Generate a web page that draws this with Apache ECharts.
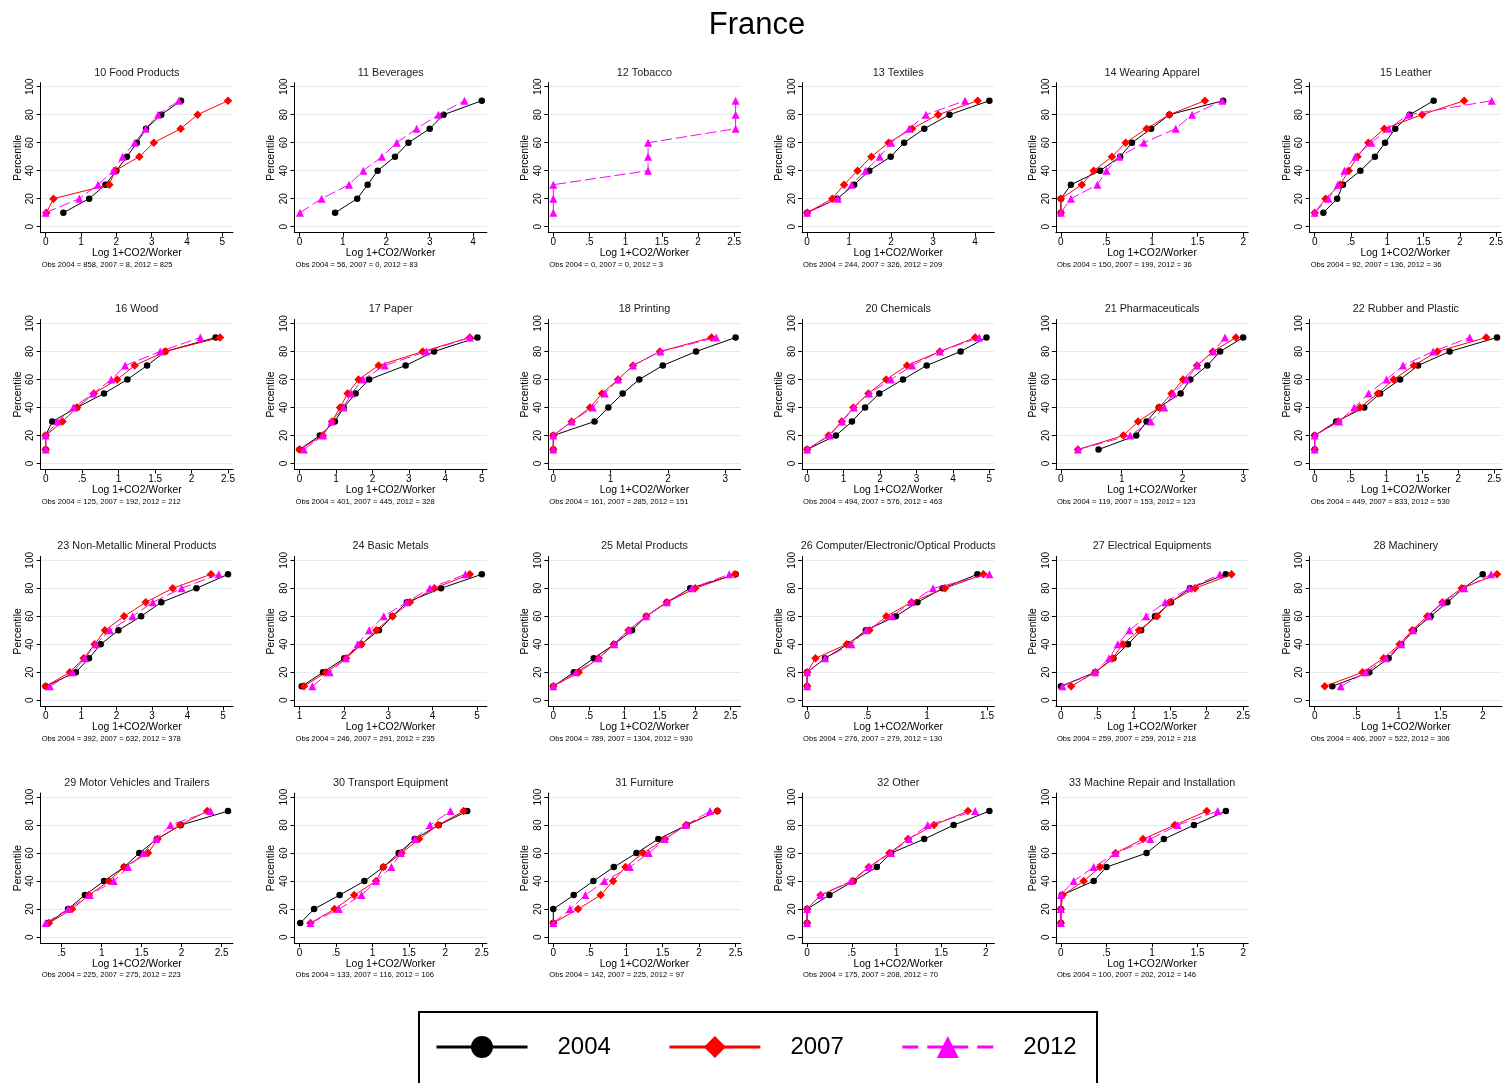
<!DOCTYPE html>
<html><head><meta charset="utf-8">
<script src="https://cdn.jsdelivr.net/npm/echarts@6/dist/echarts.min.js"></script>
<style>html,body{margin:0;padding:0;background:#fff}#c{width:1506px;height:1083px}</style>
</head><body><div id="c"></div>
<script>
const chartTitle = "France";
const industries = ["10 Food Products","11 Beverages","12 Tobacco","13 Textiles","14 Wearing Apparel","15 Leather","16 Wood","17 Paper","18 Printing","20 Chemicals","21 Pharmaceuticals","22 Rubber and Plastic","23 Non-Metallic Mineral Products","24 Basic Metals","25 Metal Products","26 Computer/Electronic/Optical Products","27 Electrical Equipments","28 Machinery","29 Motor Vehicles and Trailers","30 Transport Equipment","31 Furniture","32 Other","33 Machine Repair and Installation"];
const years = ["2004","2007","2012"];
const obs2004 = [858,56,0,244,150,92,125,401,161,494,119,449,392,246,789,276,259,406,225,133,142,175,100];
const obs2007 = [8,0,0,326,199,136,192,445,285,576,153,833,632,291,1304,279,259,522,275,116,225,208,202];
const obs2012 = [825,83,3,209,36,36,212,328,151,463,123,530,378,235,930,130,218,306,223,106,97,70,146];
const percentiles = [10,20,30,40,50,60,70,80,90];
const yTicks = [0,20,40,60,80,100];
const xTicks = [[0,1,2,3,4,5],[0,1,2,3,4],[0,.5,1,1.5,2,2.5],[0,1,2,3,4],[0,.5,1,1.5,2],[0,.5,1,1.5,2,2.5],
  [0,.5,1,1.5,2,2.5],[0,1,2,3,4,5],[0,1,2,3],[0,1,2,3,4,5],[0,1,2,3],[0,.5,1,1.5,2,2.5],
  [0,1,2,3,4,5],[1,2,3,4,5],[0,.5,1,1.5,2,2.5],[0,.5,1,1.5],[0,.5,1,1.5,2,2.5],[0,.5,1,1.5,2],
  [.5,1,1.5,2,2.5],[0,.5,1,1.5,2,2.5],[0,.5,1,1.5,2,2.5],[0,.5,1,1.5,2],[0,.5,1,1.5,2]];
const x2004 = [
  [0.50,1.23,1.69,2.00,2.30,2.58,2.84,3.27,3.83],
  [0.82,1.33,1.57,1.80,2.20,2.51,3.00,3.32,4.20],
  [],
  [0,0.72,1.12,1.48,1.99,2.31,2.79,3.39,4.34],
  [0,0,0.11,0.43,0.65,0.78,0.99,1.19,1.78],
  [0.12,0.31,0.39,0.63,0.83,0.97,1.11,1.31,1.64],
  [0,0,0.09,0.43,0.80,1.12,1.39,1.64,2.33],
  [0,0.56,0.97,1.21,1.54,1.91,2.91,3.69,4.88],
  [0,0,0.72,0.96,1.21,1.50,1.91,2.49,3.18],
  [0,0.79,1.23,1.59,1.98,2.63,3.28,4.21,4.92],
  [0.62,1.24,1.41,1.61,1.97,2.13,2.41,2.62,3.00],
  [0,0,0.30,0.69,0.91,1.19,1.44,1.88,2.54],
  [0,0.85,1.22,1.55,2.05,2.69,3.26,4.25,5.14],
  [1.05,1.53,2.01,2.39,2.79,3.09,3.42,4.19,5.11],
  [0,0.29,0.57,0.86,1.11,1.31,1.60,1.93,2.57],
  [0,0,0.15,0.34,0.49,0.74,0.92,1.13,1.42],
  [0,0.47,0.72,0.92,1.10,1.29,1.51,1.77,2.26],
  [0.21,0.65,0.88,1.03,1.18,1.38,1.58,1.77,2.00],
  [0.33,0.58,0.79,1.03,1.28,1.47,1.69,1.99,2.58],
  [0.01,0.20,0.55,0.89,1.15,1.36,1.58,1.91,2.30],
  [0,0,0.28,0.55,0.83,1.14,1.44,1.83,2.25],
  [0,0,0.25,0.52,0.78,0.94,1.31,1.64,2.04],
  [0,0,0.01,0.36,0.50,0.94,1.13,1.46,1.81]];
const x2007 = [
  [0.02,0.22,1.80,1.96,2.65,3.06,3.82,4.30,5.16],
  [],
  [],
  [0,0.60,0.88,1.20,1.53,1.94,2.50,3.12,4.06],
  [0,0,0.23,0.36,0.56,0.71,0.94,1.19,1.58],
  [0,0.15,0.35,0.47,0.59,0.74,0.96,1.48,2.06],
  [0,0,0.23,0.43,0.66,0.98,1.22,1.64,2.39],
  [0,0.64,0.89,1.11,1.32,1.62,2.17,3.38,4.67],
  [0,0,0.32,0.64,0.85,1.13,1.39,1.86,2.76],
  [0,0.59,0.95,1.27,1.68,2.17,2.74,3.64,4.61],
  [0.28,1.03,1.27,1.62,1.82,2.01,2.24,2.50,2.88],
  [0,0,0.33,0.63,0.88,1.10,1.38,1.71,2.39],
  [0,0.68,1.07,1.38,1.67,2.21,2.82,3.58,4.66],
  [1.10,1.60,2.05,2.40,2.73,3.10,3.49,4.04,4.84],
  [0,0.36,0.64,0.85,1.06,1.31,1.60,2.00,2.56],
  [0,0,0.07,0.33,0.52,0.66,0.87,1.15,1.47],
  [0.14,0.47,0.71,0.85,1.07,1.32,1.49,1.84,2.34],
  [0.12,0.57,0.82,1.01,1.16,1.34,1.52,1.75,2.17],
  [0.34,0.63,0.84,1.09,1.28,1.58,1.70,1.98,2.32],
  [0.15,0.48,0.75,1.05,1.15,1.40,1.64,1.90,2.25],
  [0,0.34,0.65,0.82,0.99,1.23,1.53,1.82,2.25],
  [0,0,0.15,0.51,0.69,0.92,1.13,1.42,1.80],
  [0,0,0.02,0.25,0.43,0.60,0.90,1.25,1.60]];
const x2012 = [
  [0,0.95,1.48,1.92,2.18,2.52,2.83,3.18,3.77],
  [0.01,0.51,1.14,1.47,1.90,2.24,2.70,3.20,3.80],
  [0,0,0,1.31,1.31,1.31,2.52,2.52,2.52],
  [0,0.73,1.06,1.39,1.73,2.00,2.43,2.83,3.76],
  [0,0.11,0.40,0.50,0.64,0.91,1.26,1.44,1.77],
  [0,0.19,0.32,0.41,0.56,0.78,1.02,1.29,2.44],
  [0,0,0.16,0.38,0.65,0.90,1.09,1.57,2.12],
  [0.12,0.65,0.88,1.21,1.42,1.74,2.34,3.48,4.67],
  [0,0,0.32,0.69,0.90,1.13,1.39,1.87,2.84],
  [0,0.62,0.96,1.28,1.70,2.30,2.88,3.64,4.72],
  [0.28,1.14,1.48,1.70,1.85,2.07,2.24,2.51,2.70],
  [0,0,0.34,0.55,0.75,1.00,1.23,1.65,2.16],
  [0.12,0.76,1.10,1.41,1.81,2.45,3.02,3.83,4.88],
  [1.29,1.68,2.05,2.31,2.57,2.90,3.41,3.94,4.74],
  [0,0.32,0.64,0.86,1.06,1.31,1.60,1.95,2.48],
  [0,0,0.15,0.37,0.49,0.71,0.87,1.05,1.52],
  [0.02,0.47,0.66,0.78,0.94,1.17,1.43,1.76,2.18],
  [0.31,0.61,0.85,1.03,1.17,1.36,1.52,1.78,2.10],
  [0.30,0.58,0.85,1.15,1.33,1.52,1.68,1.86,2.36],
  [0.15,0.54,0.85,1.05,1.26,1.39,1.58,1.79,2.07],
  [0,0.23,0.44,0.70,1.05,1.31,1.53,1.82,2.15],
  [0,0,0.15,0.49,0.69,0.94,1.14,1.35,1.88],
  [0,0,0,0.14,0.36,0.60,0.98,1.28,1.72]];

const FONT = '"Liberation Sans", Arial, sans-serif';
const chart = echarts.init(document.getElementById('c'));
const PW = 192.3, PH = 150, COLW = 253.8, ROWH = 236.8, PL = 40.7, PT = 82.7;
const grids = [], xAxes = [], yAxes = [], series = [], graphics = [];
const fmt = v => { const s = String(Math.round(v*100)/100); return s.replace(/^0\./, '.'); };
const styles = [
  {symbol:'circle', size:6.5, color:'#000000', type:'solid', z:2},
  {symbol:'diamond', size:8.5, color:'#FF0000', type:'solid', z:3},
  {symbol:'triangle', size:8, color:'#FF00FF', type:[11,4], z:4}
];
const yearData = [x2004, x2007, x2012];

industries.forEach((name, i) => {
  const r = Math.floor(i/6), c = i % 6;
  const left = PL + c*COLW, top = PT + r*ROWH;
  grids.push({left: left, top: top, width: PW, height: PH});
  const all = [].concat(x2004[i], x2007[i], x2012[i]);
  const t = xTicks[i];
  const lo = Math.min(t[0], ...all), hi = Math.max(t[t.length-1], ...all);
  const ppu = (PW - 10) / (hi - lo);
  xAxes.push({
    gridIndex: i, type: 'value', min: lo - 5/ppu, max: hi + 5/ppu,
    axisLine: {onZero: false, lineStyle: {color: '#000', width: 1}},
    axisTick: {customValues: t, length: 4, lineStyle: {color: '#000', width: 1}},
    axisLabel: {customValues: t, formatter: fmt, fontSize: 10, color: '#000', margin: 5, fontFamily: FONT},
    splitLine: {show: false},
    name: 'Log 1+CO2/Worker', nameLocation: 'middle', nameGap: 15,
    nameTextStyle: {fontSize: 10.4, color: '#000', fontFamily: FONT}
  });
  const ppy = (PH - 10) / 100;
  yAxes.push({
    gridIndex: i, type: 'value', min: -6/ppy, max: 100 + 4/ppy,
    axisLine: {show: true, onZero: false, lineStyle: {color: '#000', width: 1}},
    axisTick: {show: true, customValues: yTicks, length: 4, lineStyle: {color: '#000', width: 1}},
    axisLabel: {customValues: yTicks, rotate: 90, fontSize: 10, color: '#000', margin: 5, fontFamily: FONT},
    splitLine: {show: true, lineStyle: {color: '#E4ECEF', width: 1}},
    name: 'Percentile', nameLocation: 'middle', nameGap: 18, nameRotate: 90,
    nameTextStyle: {fontSize: 10.4, color: '#000', fontFamily: FONT}
  });
  years.forEach((yr, k) => {
    const st = styles[k];
    series.push({
      type: 'line', name: yr, xAxisIndex: i, yAxisIndex: i,
      data: yearData[k][i].map((x, j) => [x, percentiles[j]]),
      symbol: st.symbol, symbolSize: st.size, showSymbol: true,
      lineStyle: {color: st.color, width: 1, type: st.type},
      itemStyle: {color: st.color},
      z: st.z, emphasis: {disabled: true}, silent: true
    });
  });
  graphics.push({type: 'text', x: left + PW/2, y: 72.7 + r*ROWH,
    style: {text: name, textAlign: 'center', textVerticalAlign: 'middle', font: '10.8px ' + FONT, fill: '#1a1a1a'}});
  graphics.push({type: 'text', x: 41.7 + c*COLW, y: 265 + r*ROWH,
    style: {text: 'Obs 2004 = ' + obs2004[i] + ', 2007 = ' + obs2007[i] + ', 2012 = ' + obs2012[i],
      textAlign: 'left', textVerticalAlign: 'middle', font: '7.6px ' + FONT, fill: '#000'}});
});
graphics.push({type: 'text', x: 757, y: 25,
  style: {text: chartTitle, textAlign: 'center', textVerticalAlign: 'middle', font: '31px ' + FONT, fill: '#000'}});
graphics.push({type: 'rect', shape: {x: 419, y: 1012, width: 678, height: 120},
  style: {fill: 'none', stroke: '#000', lineWidth: 2}});

chart.setOption({
  animation: false,
  backgroundColor: '#fff',
  grid: grids, xAxis: xAxes, yAxis: yAxes, series: series,
  legend: {
    data: [{name: '2004'}, {name: '2007'}, {name: '2012', lineStyle: {type: [16, 9]}}],
    left: 435, top: 1035, orient: 'horizontal', itemWidth: 91, itemHeight: 27.5, itemGap: 57,
    padding: 0, selectedMode: false, lineStyle: {width: 3},
    textStyle: {fontSize: 24, color: '#000', fontFamily: FONT, padding: [0, 0, 0, 25]}
  },
  graphic: graphics
});
</script></body></html>
